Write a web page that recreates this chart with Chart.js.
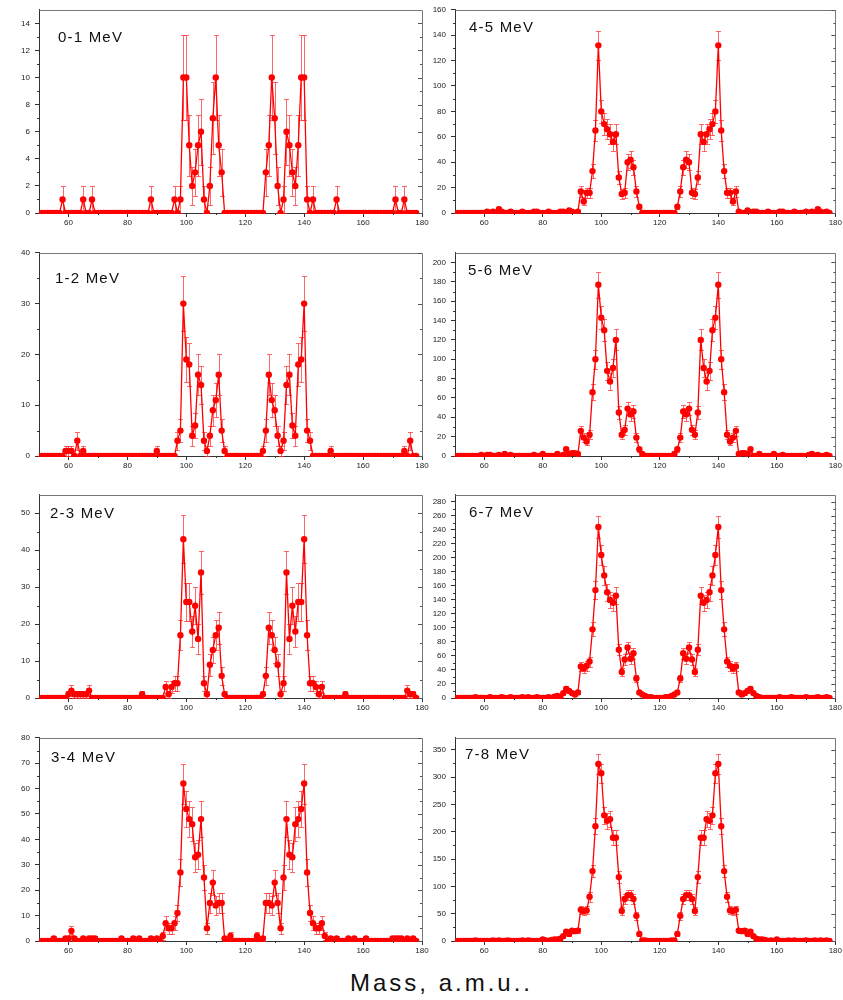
<!DOCTYPE html>
<html><head><meta charset="utf-8">
<script src="https://cdn.jsdelivr.net/npm/chart.js@4.4.0/dist/chart.umd.min.js"></script>
<style>
html,body{margin:0;padding:0;background:#fff}
body{width:843px;height:1000px;position:relative;overflow:hidden;font-family:"Liberation Sans",Arial,sans-serif}
.pc{position:absolute}
.lab{position:absolute;font-size:15px;letter-spacing:1.2px;line-height:15px;color:#111;white-space:nowrap}
#xt{position:absolute;left:350px;top:971px;font-size:24px;letter-spacing:3px;line-height:24px;color:#111;white-space:nowrap}
</style></head><body>
<div id="xt">Mass, a.m.u..</div>
<script>
// ---- data (mass 51..178, counts per 1 a.m.u.) ----
const masses = [51,52,53,54,55,56,57,58,59,60,
 61,62,63,64,65,66,67,68,69,70,
 71,72,73,74,75,76,77,78,79,80,
 81,82,83,84,85,86,87,88,89,90,
 91,92,93,94,95,96,97,98,99,100,
 101,102,103,104,105,106,107,108,109,110,
 111,112,113,114,115,116,117,118,119,120,
 121,122,123,124,125,126,127,128,129,130,
 131,132,133,134,135,136,137,138,139,140,
 141,142,143,144,145,146,147,148,149,150,
 151,152,153,154,155,156,157,158,159,160,
 161,162,163,164,165,166,167,168,169,170,
 171,172,173,174,175,176,177,178];

const panelNames = ["0-1 MeV","1-2 MeV","2-3 MeV","3-4 MeV","4-5 MeV","5-6 MeV","6-7 MeV","7-8 MeV"];

const e01 = [0,0,0,0,0,0,0,1,0,0,
 0,0,0,0,1,0,0,1,0,0,
 0,0,0,0,0,0,0,0,0,0,
 0,0,0,0,0,0,0,1,0,0,
 0,0,0,0,0,1,0,1,10,10,
 5,2,3,5,6,1,0,2,7,10,
 5,3,0,0,0,0,0,0,0,0,
 0,0,0,0,0,0,3,5,10,7,
 2,0,1,6,5,3,2,5,10,10,
 1,0,1,0,0,0,0,0,0,0,
 1,0,0,0,0,0,0,0,0,0,
 0,0,0,0,0,0,0,0,0,0,
 1,0,0,1,0,0,0,0];

const e12 = [0,0,0,0,0,0,0,0,1,1,
 1,0,3,0,1,0,0,0,0,0,
 0,0,0,0,0,0,0,0,0,0,
 0,0,0,0,0,0,0,0,0,1,
 0,0,0,0,0,0,3,5,30,19,
 18,4,6,16,14,3,1,4,9,11,
 16,5,1,0,0,0,0,0,0,0,
 0,0,0,0,0,1,5,16,11,9,
 4,1,3,14,16,6,4,18,19,30,
 5,3,0,0,0,0,0,0,1,0,
 0,0,0,0,0,0,0,0,0,0,
 0,0,0,0,0,0,0,0,0,0,
 0,0,0,1,0,3,0,0];

const e23 = [0,0,0,0,0,0,0,0,0,1,
 2,1,1,1,1,1,2,0,0,0,
 0,0,0,0,0,0,0,0,0,0,
 0,0,0,0,1,0,0,0,0,0,
 0,0,3,1,3,4,4,17,43,26,
 26,18,25,16,34,4,1,9,13,17,
 19,6,1,0,0,0,0,0,0,0,
 0,0,0,0,0,1,6,19,17,13,
 9,1,4,34,16,25,18,26,26,43,
 17,4,4,3,1,3,0,0,0,0,
 0,0,0,1,0,0,0,0,0,0,
 0,0,0,0,0,0,0,0,0,0,
 0,0,0,0,2,1,1,0];

const e34 = [0,0,0,0,1,0,0,0,1,1,
 4,1,0,0,1,0,1,1,1,0,
 0,0,0,0,0,0,0,1,0,0,
 0,1,0,1,0,0,0,1,0,1,
 0,2,7,5,5,7,11,27,62,52,
 48,46,33,34,48,25,5,15,23,14,
 15,15,1,0,2,0,0,0,0,0,
 0,0,0,2,0,1,15,15,14,23,
 15,5,25,48,34,33,46,48,52,62,
 27,11,7,5,5,7,2,0,1,0,
 1,0,0,0,1,0,1,0,0,0,
 1,0,0,0,0,0,0,0,0,1,
 1,1,1,0,1,0,1,0];

const e45 = [0,0,0,0,0,0,0,0,0,0,
 1,0,1,0,3,1,0,0,1,0,
 0,0,1,0,0,0,1,1,0,0,
 0,1,0,0,0,1,1,0,2,1,
 0,1,17,9,16,16,33,65,132,80,
 70,66,62,56,62,28,15,16,40,42,
 36,17,5,0,0,0,0,0,0,0,
 0,0,0,0,0,5,17,36,42,40,
 16,15,28,62,56,62,66,70,80,132,
 65,33,16,16,9,17,1,0,0,2,
 0,1,1,0,0,0,1,0,0,0,
 1,1,0,0,0,1,0,0,0,1,
 0,1,0,3,1,0,1,0];

const e56 = [0,0,0,0,0,0,0,0,1,0,
 1,1,0,0,1,0,2,0,1,0,
 0,0,0,0,0,0,1,0,0,2,
 0,0,0,0,2,0,1,7,2,3,
 3,2,26,19,15,22,66,100,177,143,
 130,88,77,91,120,45,22,27,49,43,
 46,19,7,2,0,0,0,0,0,0,
 0,0,0,0,2,7,19,46,43,49,
 27,22,45,120,91,77,88,130,143,177,
 100,66,22,15,19,26,2,3,3,2,
 7,0,0,2,0,0,0,0,2,0,
 0,1,0,0,0,0,0,0,0,0,
 1,2,0,1,0,0,1,0];

const e67 = [0,0,0,0,0,0,1,0,0,0,
 0,1,0,0,0,1,0,0,1,0,
 0,0,1,0,1,0,0,1,0,0,
 0,1,0,2,3,1,7,13,10,7,
 5,8,45,42,46,52,98,154,244,204,
 175,151,140,136,146,69,37,55,72,56,
 64,28,8,5,3,1,1,0,0,0,
 0,1,1,3,5,8,28,64,56,72,
 55,37,69,146,136,140,151,175,204,244,
 154,98,52,46,42,45,8,5,7,10,
 13,7,3,1,0,0,0,0,0,0,
 1,0,0,0,1,0,0,0,0,1,
 0,0,0,1,0,0,1,0];

const e78 = [0,0,0,0,0,0,1,0,0,0,
 0,0,1,0,1,0,0,1,0,0,
 0,0,1,0,1,0,0,0,0,3,
 1,0,2,3,3,4,9,17,13,19,
 18,19,57,55,56,81,128,210,324,307,
 230,220,223,189,189,117,55,77,84,84,
 77,46,13,1,1,0,0,0,0,0,
 0,0,0,1,1,13,46,77,84,84,
 77,55,117,189,189,223,220,230,307,324,
 210,128,81,56,55,57,19,18,19,13,
 17,9,4,3,3,2,0,1,0,3,
 0,0,0,1,0,1,0,0,0,1,
 0,0,1,0,1,0,1,0];

const seriesList = [e01,e12,e23,e34,e45,e56,e67,e78];

// tick labels
const xTicks = [60,80,100,120,140,160,180];
const yTicks01 = [0,2,4,6,8,10,12,14];
const yTicks12 = [0,10,20,30,40];
const yTicks23 = [0,10,20,30,40,50];
const yTicks34 = [0,10,20,30,40,50,60,70,80];
const yTicks45 = [0,20,40,60,80,100,120,140,160];
const yTicks56 = [0,20,40,60,80,100,120,140,160,180,200];
const yTicks67 = [0,20,40,60,80,100,120,140,160,180,200,220,240,260,280];
const yTicks78 = [0,50,100,150,200,250,300,350];
const yTickList = [yTicks01,yTicks12,yTicks23,yTicks34,yTicks45,yTicks56,yTicks67,yTicks78];
const yMaxList = [15,40,55,80,160,210,290,372];
const xMin = 50, xMax = 180;

// ---- layout ----
const FONT = '"Liberation Sans", Arial, sans-serif';
const rowTops = [7,250,492,735];      // chart-area tops
const areaH = 206;
const labelPos = [[58,31],[55,272],[50,507],[51,751],[469,21],[468,264],[469,506],[465,748]];

function midpoints(arr){const r=[];for(let i=0;i<arr.length-1;i++)r.push((arr[i]+arr[i+1])/2);return r;}

const extras = {
  id:'extras',
  beforeDatasetsDraw(chart){
    const {ctx, chartArea:a, scales:{x,y}} = chart;
    const pts = chart.data.datasets[0].data;
    ctx.save();
    ctx.beginPath(); ctx.rect(a.left-3, a.top-3, a.right-a.left+6, a.bottom-a.top+4); ctx.clip();
    ctx.strokeStyle='rgba(255,40,40,0.7)'; ctx.lineWidth=1;
    pts.forEach(p=>{
      if(p.y<=0) return;
      const e=Math.sqrt(p.y); // Poisson counting error
      const px=Math.round(x.getPixelForValue(p.x))+0.5;
      const t=Math.round(y.getPixelForValue(p.y+e))+0.5, b=Math.round(y.getPixelForValue(Math.max(0,p.y-e)))+0.5;
      ctx.beginPath();
      ctx.moveTo(px,t); ctx.lineTo(px,b);
      ctx.moveTo(px-2.5,t); ctx.lineTo(px+2.5,t);
      ctx.moveTo(px-2.5,b); ctx.lineTo(px+2.5,b);
      ctx.stroke();
    });
    ctx.restore();
  },
  afterDraw(chart){
    const {ctx, chartArea:a, scales:{x,y}} = chart;
    const yt = chart.options.plugins.extras.yTicks, ymax = chart.options.scales.y.max;
    ctx.save();
    ctx.lineWidth=1;
    ctx.strokeStyle='#777';
    ctx.beginPath();
    ctx.moveTo(Math.round(a.left)+0.5, Math.round(a.top)+0.5);
    ctx.lineTo(Math.round(a.right)+0.5, Math.round(a.top)+0.5);
    ctx.lineTo(Math.round(a.right)+0.5, Math.round(a.bottom)+0.5);
    ctx.stroke();
    ctx.strokeStyle='#555';
    ctx.beginPath();
    yt.forEach(v=>{const py=Math.round(y.getPixelForValue(v))+0.5; ctx.moveTo(a.right,py); ctx.lineTo(a.right-4,py);});
    midpoints(yt).forEach(v=>{const py=Math.round(y.getPixelForValue(v))+0.5; ctx.moveTo(a.right,py); ctx.lineTo(a.right-2,py);});
    ctx.stroke();
    ctx.strokeStyle='#333';
    ctx.beginPath();
    const ym = midpoints(yt); const last = yt[yt.length-1], step = yt[1]-yt[0];
    if(last+step/2 < ymax) ym.push(last+step/2);
    ym.forEach(v=>{const py=Math.round(y.getPixelForValue(v))+0.5; ctx.moveTo(a.left,py); ctx.lineTo(a.left-2,py);});
    midpoints(xTicks).forEach(v=>{const px=Math.round(x.getPixelForValue(v))+0.5; ctx.moveTo(px,a.bottom); ctx.lineTo(px,a.bottom+2);});
    ctx.stroke();
    ctx.restore();
  }
};

for(let k=0;k<8;k++){
  const col = k<4?0:1, row = k%4;
  const cw = col===0?432:418, cl = col===0?0:425;
  const yw = col===0?39:30;
  const rp = col===0?10:7;
  const ch = 7+areaH+22;
  const wrap = document.createElement('div');
  wrap.className='pc';
  wrap.style.left=cl+'px'; wrap.style.top=(rowTops[row]-7)+'px';
  wrap.style.width=cw+'px'; wrap.style.height=ch+'px';
  const cv = document.createElement('canvas');
  cv.width=cw; cv.height=ch; cv.style.width=cw+'px'; cv.style.height=ch+'px';
  wrap.appendChild(cv);
  document.body.appendChild(wrap);

  const lab = document.createElement('div');
  lab.className='lab'; lab.textContent=panelNames[k];
  lab.style.left=labelPos[k][0]+'px'; lab.style.top=(labelPos[k][1]-2)+'px';
  document.body.appendChild(lab);

  const vals = seriesList[k];
  const yT = yTickList[k];
  new Chart(cv,{
    type:'line',
    data:{datasets:[{
      data: masses.map((m,i)=>({x:m,y:vals[i]})),
      borderColor:'#ff0000', backgroundColor:'#ff0000',
      borderWidth:1.3, tension:0,
      pointRadius:3.2, pointHoverRadius:0, pointBorderWidth:0,
      pointBackgroundColor:'#ff0000', pointStyle:'circle',
      clip:{left:6,right:6,top:6,bottom:1}
    }]},
    options:{
      responsive:false, animation:false, events:[],
      layout:{padding:{top:7,right:rp,left:0,bottom:0}},
      plugins:{legend:{display:false}, tooltip:{enabled:false}, extras:{yTicks:yT}},
      scales:{
        x:{type:'linear', min:xMin, max:xMax,
          afterBuildTicks:s=>{s.ticks=xTicks.map(v=>({value:v}));},
          afterFit:s=>{s.height=22;},
          ticks:{font:{size:8,family:FONT}, color:'#222', padding:1, maxRotation:0, autoSkip:false},
          grid:{drawOnChartArea:false, drawTicks:true, tickLength:4, color:'#333'},
          border:{display:true, color:'#333', width:1}},
        y:{type:'linear', min:0, max:yMaxList[k],
          afterBuildTicks:s=>{s.ticks=yT.map(v=>({value:v}));},
          afterFit:s=>{s.width=yw;},
          ticks:{font:{size:8,family:FONT}, color:'#222', padding:5, autoSkip:false},
          grid:{drawOnChartArea:false, drawTicks:true, tickLength:4, color:'#333'},
          border:{display:true, color:'#333', width:1}}
      }
    },
    plugins:[extras]
  });
}
</script>
</body></html>
